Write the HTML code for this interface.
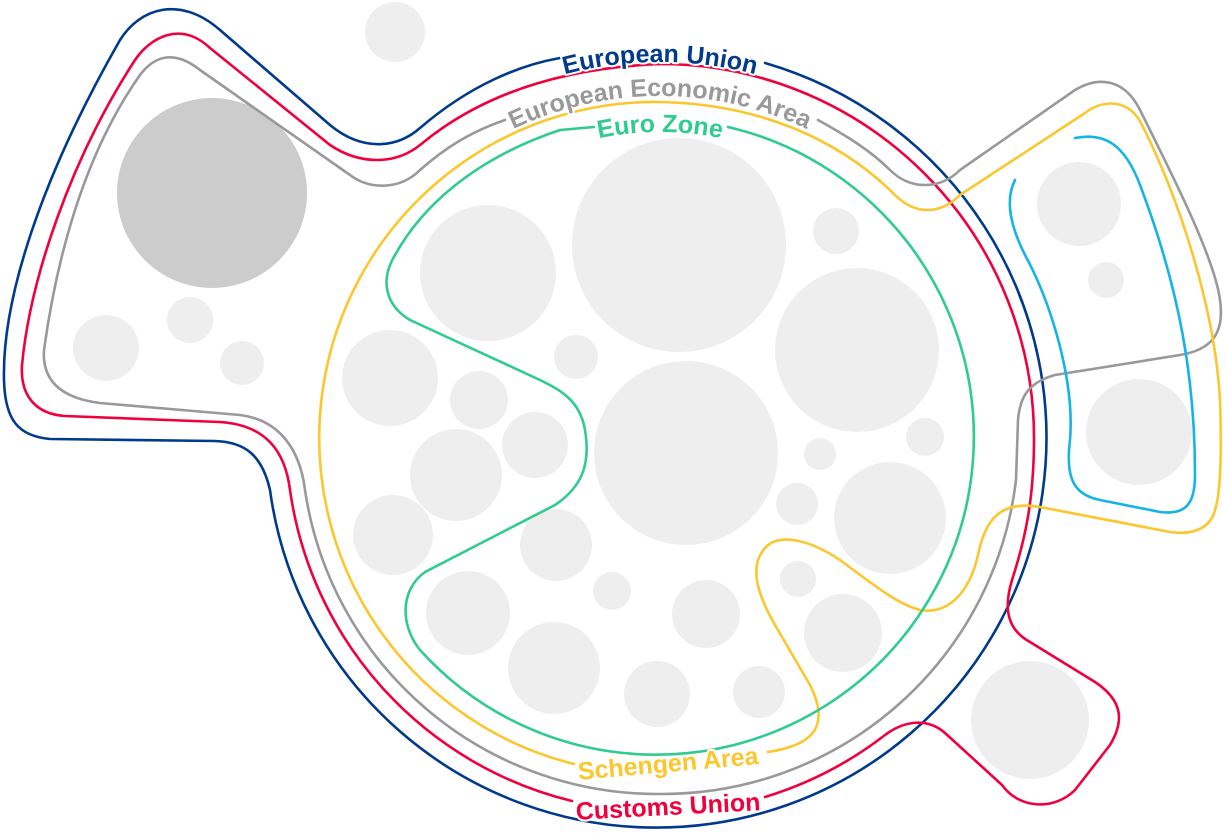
<!DOCTYPE html>
<html><head><meta charset="utf-8"><style>
html,body{margin:0;padding:0;background:#fff;}
svg{display:block}
text{font-family:"Liberation Sans",sans-serif;font-weight:bold;font-size:25px;paint-order:stroke;stroke:#fff;stroke-width:4px;stroke-linejoin:round}
</style></head><body>
<svg width="1225" height="833" viewBox="0 0 1225 833" xmlns="http://www.w3.org/2000/svg">
<g fill="#eeeeee">
<circle cx="395" cy="32" r="30"/>
<circle cx="212" cy="193" r="95" fill="#cccccc"/>
<circle cx="106" cy="348" r="33"/>
<circle cx="190" cy="320" r="23"/>
<circle cx="242" cy="363" r="22"/>
<circle cx="488" cy="273" r="68"/>
<circle cx="679" cy="245" r="107"/>
<circle cx="836" cy="231" r="23"/>
<circle cx="857" cy="350" r="82"/>
<circle cx="390" cy="378" r="48"/>
<circle cx="576" cy="357" r="22"/>
<circle cx="479" cy="400" r="29"/>
<circle cx="535" cy="445" r="33"/>
<circle cx="456" cy="475" r="46"/>
<circle cx="686" cy="453" r="92"/>
<circle cx="925" cy="437" r="19"/>
<circle cx="820" cy="454" r="16"/>
<circle cx="393" cy="535" r="40"/>
<circle cx="556" cy="545" r="36"/>
<circle cx="797" cy="504" r="21"/>
<circle cx="890" cy="518" r="56"/>
<circle cx="612" cy="591" r="19"/>
<circle cx="798" cy="579" r="18"/>
<circle cx="468" cy="613" r="42"/>
<circle cx="706" cy="614" r="34"/>
<circle cx="843" cy="633" r="39"/>
<circle cx="554" cy="668" r="46"/>
<circle cx="657" cy="694" r="33"/>
<circle cx="759" cy="692" r="26"/>
<circle cx="1079" cy="204" r="42"/>
<circle cx="1106" cy="280" r="18"/>
<circle cx="1139" cy="432" r="53"/>
<circle cx="1030" cy="720" r="59"/>
</g>
<defs>
<path id="tEU" d="M 284 438 A 376 376 0 0 1 1036 438"/>
<path id="tEEA" d="M 318 438 A 342 342 0 0 1 1002 438"/>
<path id="tEZ" d="M 354 438 A 306 306 0 0 1 966 438"/>
</defs>
<g fill="none" stroke-width="2.6" stroke-linecap="round" stroke-linejoin="round">
<path stroke="#003a8c" d="M 765 63 A 390 390 0 1 1 270 490 C 262 455 245 442 215 441 L 50 439 C 18 436 5 420 4 380 C 2 300 40 180 120 40 C 140 8 180 -5 220 30 L 330 125 C 360 150 395 150 420 128 C 470 85 520 65 560 58"/>
<path stroke="#f0003c" d="M 290 490 C 285 450 265 425 220 422 L 65 416 C 35 414 20 395 22 365 C 30 280 70 160 135 60 C 150 38 180 20 210 48 L 330 145 C 360 165 395 165 420 145 C 480 95 560 68 660 64 A 374 374 0 0 1 1034 438 C 1034 500 1025 540 1012 580 C 1003 610 1008 630 1030 642 L 1095 682 C 1122 700 1125 720 1110 745 L 1075 790 C 1055 810 1020 810 1002 785 L 945 733 C 928 718 905 720 885 735 A 374 374 0 0 1 765 797 M 572 801 A 374 374 0 0 1 290 490"/>
<path stroke="#999999" d="M 305 490 C 300 450 280 420 240 415 L 100 403 C 60 398 42 380 44 350 C 55 270 80 160 140 75 C 155 55 175 50 200 70 L 350 175 C 370 190 400 190 420 170 C 445 148 470 132 505 120 M 818 120 C 845 135 870 150 890 170 C 910 190 940 190 960 170 L 1075 90 C 1100 75 1125 80 1140 110 C 1175 180 1215 260 1220 300 C 1225 335 1210 350 1180 355 L 1055 375 C 1030 382 1020 395 1018 420 L 1016 480 A 356 356 0 0 1 660 794 A 356 356 0 0 1 305 490"/>
<path stroke="#fcc72e" d="M 660 102 C 760 104 840 140 895 195 C 915 215 940 215 960 195 L 1085 113 C 1105 98 1130 100 1142 125 C 1180 200 1215 310 1220 400 C 1222 460 1220 495 1215 510 C 1210 530 1190 535 1170 532 L 1040 507 C 1000 500 985 520 978 555 C 970 590 950 615 920 610 C 900 605 880 590 840 560 C 810 540 775 530 762 552 C 750 570 758 595 775 625 L 810 685 C 830 725 815 745 768 752 M 574 764 A 336 336 0 0 1 660 102"/>
<path stroke="#2ecc8f" d="M 728 127 A 318 318 0 1 1 420 650 C 400 625 400 590 425 572 L 555 505 C 585 485 590 460 585 430 C 580 400 560 390 540 380 L 410 320 C 385 305 380 280 395 255 C 420 210 470 160 560 130 L 594 127"/>
<path stroke="#14b4e6" d="M 1015 180 C 1005 200 1010 225 1025 255 C 1050 300 1075 380 1070 440 C 1065 480 1075 495 1100 500 L 1160 512 C 1185 515 1195 505 1195 475 C 1195 380 1180 290 1140 185 C 1125 145 1105 132 1075 138"/>
</g>
<text fill="#003a8c"><textPath href="#tEU" startOffset="50%" text-anchor="middle">European Union</textPath></text>
<text fill="#999999"><textPath href="#tEEA" startOffset="50%" text-anchor="middle">European Economic Area</textPath></text>
<text fill="#2ecc8f"><textPath href="#tEZ" startOffset="50%" text-anchor="middle">Euro Zone</textPath></text>
<text fill="#fcc72e" x="668" y="772" text-anchor="middle" transform="rotate(-5 668 763)">Schengen Area</text>
<text fill="#f0003c" x="668" y="815" text-anchor="middle" transform="rotate(-3 668 806)">Customs Union</text>
</svg>
</body></html>
